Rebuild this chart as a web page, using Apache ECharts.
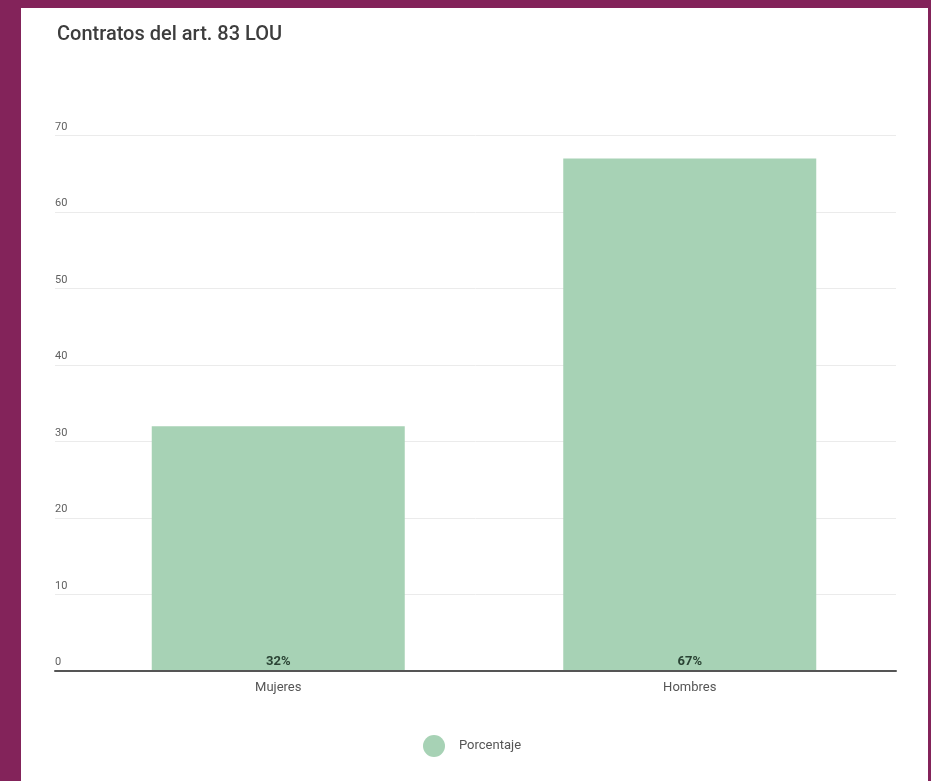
<!DOCTYPE html>
<html>
<head>
<meta charset="utf-8">
<title>Contratos del art. 83 LOU</title>
<script src="https://cdn.jsdelivr.net/npm/echarts@6/dist/echarts.min.js"></script>
<style>
  html, body { margin: 0; padding: 0; background: #83235a; }
  #panel { position: absolute; left: 21px; top: 8px; width: 907px; height: 773px; background: #ffffff; }
  #chart { position: absolute; left: 0; top: 0; width: 931px; height: 781px; }
</style>
</head>
<body>
<div id="panel"></div>
<div id="chart"></div>
<script>
// Share of art. 83 LOU contracts by sex
const categories = ['Mujeres', 'Hombres'];
const porcentaje = [32, 67];
const seriesName = 'Porcentaje';
const yTicks = { min: 0, max: 70, step: 10 };

const chart = echarts.init(document.getElementById('chart'), null, { renderer: 'canvas' });
const font = 'Roboto, "Noto Sans", sans-serif';

chart.setOption({
  backgroundColor: 'transparent',
  animation: false,
  textStyle: { fontFamily: font },
  title: {
    text: 'Contratos del art. 83 LOU',
    left: 57,
    top: 25,
    padding: 0,
    textStyle: { fontFamily: font, fontSize: 20, fontWeight: 500, color: '#3d3d3d' }
  },
  legend: {
    data: [seriesName],
    left: 423,
    top: 735,
    padding: 0,
    icon: 'circle',
    itemWidth: 22,
    itemHeight: 22,
    itemGap: 10,
    textStyle: { fontFamily: font, fontSize: 13, color: '#555555', padding: [0, 0, 0, 9] }
  },
  grid: [
    // frame for the value axis, gridlines and baseline
    { left: 55, right: 35, top: 135.5, bottom: 110 },
    // bars and category labels
    { left: 72.5, right: 35.5, top: 135.5, bottom: 110 }
  ],
  xAxis: [
    {
      gridIndex: 0,
      type: 'category',
      data: categories,
      z: 5,
      axisLine: { show: true, lineStyle: { color: '#555555', width: 2 } },
      axisTick: { show: false },
      axisLabel: { show: false },
      splitLine: { show: false }
    },
    {
      gridIndex: 1,
      type: 'category',
      data: categories,
      axisLine: { show: false },
      axisTick: { show: false },
      axisLabel: { fontFamily: font, fontSize: 13, color: '#555555', margin: 10 },
      splitLine: { show: false }
    }
  ],
  yAxis: [
    {
      gridIndex: 0,
      type: 'value',
      min: yTicks.min,
      max: yTicks.max,
      interval: yTicks.step,
      axisLine: { show: false },
      axisTick: { show: false },
      axisLabel: {
        inside: true,
        margin: 0,
        verticalAlign: 'bottom',
        padding: [0, 0, 3, 0],
        fontFamily: font,
        fontSize: 11,
        color: '#606060'
      },
      splitLine: { show: true, lineStyle: { color: '#ebebeb', width: 1 } }
    },
    {
      gridIndex: 1,
      type: 'value',
      min: yTicks.min,
      max: yTicks.max,
      interval: yTicks.step,
      show: false,
      splitLine: { show: false }
    }
  ],
  series: [
    {
      name: seriesName,
      type: 'bar',
      xAxisIndex: 1,
      yAxisIndex: 1,
      data: porcentaje,
      barWidth: 253,
      itemStyle: { color: '#a7d2b5' },
      label: {
        show: true,
        position: 'insideBottom',
        distance: 3,
        formatter: '{c}%',
        fontFamily: font,
        fontSize: 13,
        fontWeight: 'bold',
        color: '#2a4334'
      }
    }
  ]
});
</script>
</body>
</html>
